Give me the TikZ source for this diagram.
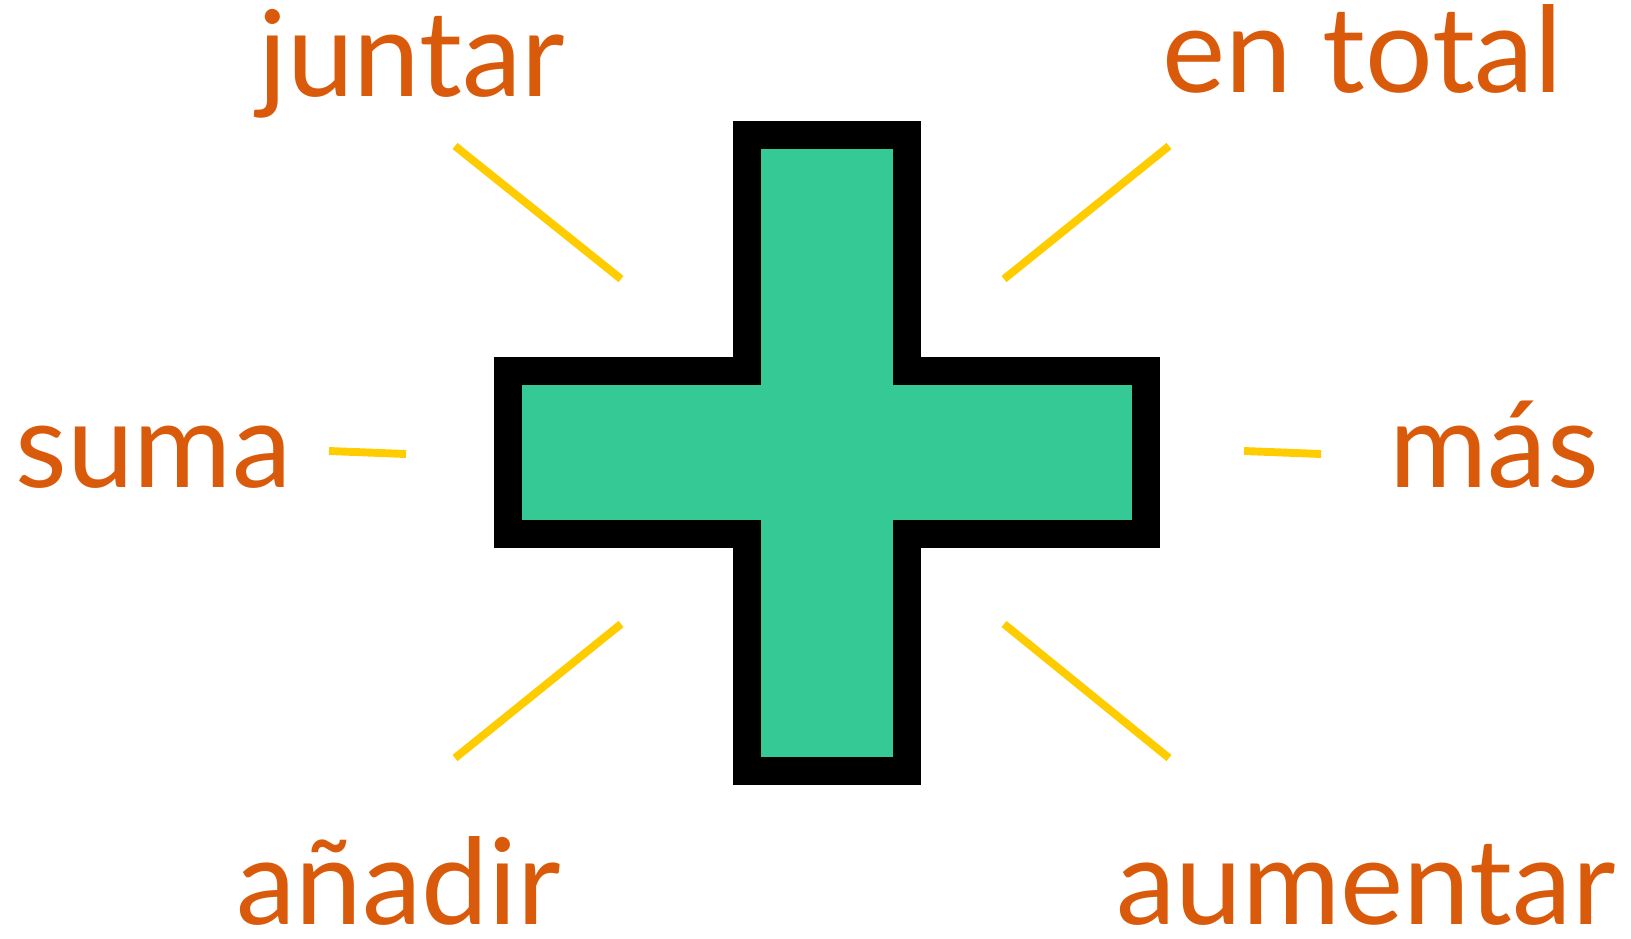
\documentclass[tikz,border=0pt]{standalone}
\usepackage{fontspec}
\setmainfont{Lato}

\definecolor{wordorange}{HTML}{D95A0A}
\definecolor{plusgreen}{HTML}{35C996}
\definecolor{rayyellow}{HTML}{FFCC00}

\tikzset{
  word/.style={text=wordorange, font=\fontsize{68}{78}\selectfont, inner sep=0pt, anchor=base west},
  ray/.style={draw=rayyellow, line width=4.5pt}
}

\begin{document}
\begin{tikzpicture}[x=0.02cm, y=-0.02cm]
  \useasboundingbox (0,0) rectangle (1631,938);

  % The plus sign
  \draw[line width=15.9pt, fill=plusgreen, line join=miter]
    (747,135) -- (907,135) -- (907,371) -- (1146,371) -- (1146,534) -- (907,534)
    -- (907,771) -- (747,771) -- (747,534) -- (508,534) -- (508,371) -- (747,371) -- cycle;

  % Words around it
  \node[word] (juntar)    at (258,96)  {juntar};
  \node[word] (entotal)   at (1162,92) {en total};
  \node[word] (suma)      at (15,487)  {suma};
  \node[word] (mas)       at (1389,487) {más};
  \node[word] (anadir)    at (236,924) {añadir};
  \node[word] (aumentar)  at (1116,924) {aumentar};

  % Rays
  \coordinate (r1a) at (455,146);  \coordinate (r1b) at (621,279);
  \coordinate (r2a) at (1169,146); \coordinate (r2b) at (1004,279);
  \coordinate (r3a) at (329,451);  \coordinate (r3b) at (406,454);
  \coordinate (r4a) at (1244,451); \coordinate (r4b) at (1321,454);
  \coordinate (r5a) at (455,758);  \coordinate (r5b) at (621,624);
  \coordinate (r6a) at (1169,758); \coordinate (r6b) at (1004,624);
  \foreach \i in {1,...,6}
    \draw[ray] (r\i a) -- (r\i b);
\end{tikzpicture}
\end{document}
